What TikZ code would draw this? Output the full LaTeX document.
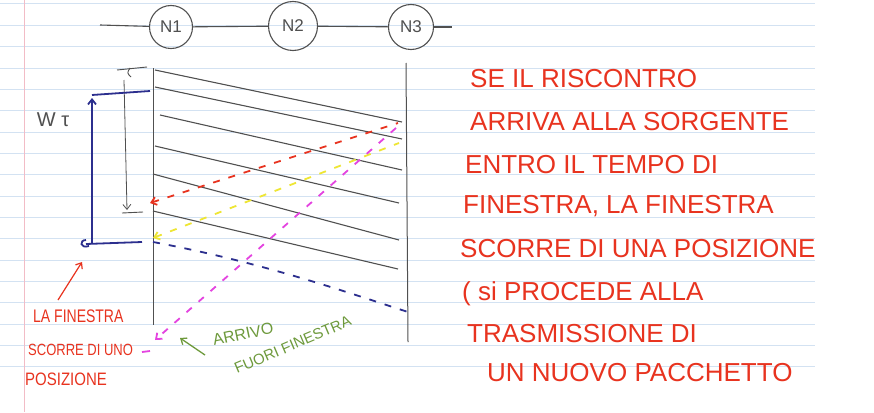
\documentclass[tikz,border=0pt]{standalone}
\usepackage{fontspec}
\setmainfont{Liberation Sans}
\usetikzlibrary{arrows.meta}
\definecolor{paperline}{HTML}{D3E2F2}
\definecolor{marginc}{HTML}{F2BCC6}
\definecolor{grayink}{HTML}{505050}
\definecolor{blueink}{HTML}{2C2F8E}
\definecolor{redink}{HTML}{E8331F}
\definecolor{yellowink}{HTML}{EEE634}
\definecolor{magink}{HTML}{E444E0}
\definecolor{greenink}{HTML}{6E9A3C}
\tikzset{
  ruled/.style={paperline, line width=1pt},
  nodecirc/.style={circle, draw=grayink, line width=1.1pt, inner sep=0pt, text=grayink, font=\fontsize{17}{17}\selectfont},
  link/.style={grayink, line width=1.1pt},
  timeline/.style={grayink, line width=1pt},
  pkt/.style={grayink, line width=1.1pt},
  blueline/.style={blueink, line width=1.8pt},
  ackdash/.style={line width=1.8pt, dash pattern=on 7pt off 9pt},
  tip/.style={-{Straight Barb[length=5pt,width=8pt]}},
  bigtext/.style={anchor=base west, text=redink, inner sep=0pt, font=\fontsize{26}{26}\selectfont},
  smalltext/.style={anchor=base west, inner sep=0pt, font=\fontsize{14}{14}\selectfont}
}
\begin{document}
\begin{tikzpicture}[x=1pt,y=-1pt]
\useasboundingbox (0,0) rectangle (874,412);
\fill[white] (0,0) rectangle (874,412);
% ruled paper
\foreach \i in {0,...,17} {\draw[ruled] (0,{4+21.35*\i}) -- (815,{4+21.35*\i});}
\draw[marginc, line width=1pt] (24,0) -- (24,412);
% network
\coordinate (l0) at (100,25);
\coordinate (l4) at (452,27);
\node[nodecirc, minimum width=43pt, minimum height=41pt] (n1) at (171,27) {N1};
\node[nodecirc, minimum size=49pt] (n2) at (293,26) {N2};
\node[nodecirc, minimum size=45pt] (n3) at (411,27) {N3};
\draw[link] (l0) -- (n1);
\draw[link] (n1) -- (n2);
\draw[link] (n2) -- (n3);
\draw[link] (n3) -- (l4);
% time lines
\draw[timeline] (153,68) -- (153,325);
\draw[timeline] (406,63) -- (408,342);
% packets
\draw[pkt] (155,70) -- (402,122);
\draw[pkt] (155,87) -- (402,139);
\draw[pkt] (160,115) -- (402,170);
\draw[pkt] (155,146) -- (399,203);
\draw[pkt] (153,174) -- (399,240);
\draw[pkt] (153,211) -- (398,269);
% tau marker
\draw[grayink, line width=0.9pt] (117,70) -- (147,67);
\draw[grayink, line width=0.9pt] (130,68) .. controls (127,73) .. (131,77);
\draw[grayink, line width=0.8pt, tip] (124,80) -- (127,210);
\draw[grayink, line width=0.9pt] (122,213) -- (143,212);
\node[text=grayink, font=\fontsize{20}{20}\selectfont, inner sep=0pt] (wt) at (53,120) {W τ};
% blue window
\draw[blueline] (92,95) -- (150,91);
\draw[blueline, tip] (92,244) -- (92,98);
\draw[blueline] (86,244) -- (142,242);
\draw[blueline] (86,240) .. controls (79,240) and (80,249) .. (89,246);
% acks
\draw[redink, ackdash, {Straight Barb[length=5pt,width=8pt]}-] (150,203) -- (398,123);
\draw[yellowink, ackdash, {Straight Barb[length=5pt,width=8pt]}-] (153,238) -- (399,143);
\draw[magink, ackdash, tip] (396,128) -- (155,340);
\draw[magink, line width=1.8pt] (142,352) -- (150,351);
\draw[blueink, ackdash] (153,242) .. controls (260,262) and (340,290) .. (408,312);
% left annotations
\draw[redink, line width=1.2pt, tip] (58,300) -- (82,262);
\node[smalltext, text=redink] (t1) at (33,322) {\scalebox{1}[1.3]{LA FINESTRA}};
\node[smalltext, text=redink, font=\fontsize{13}{13}\selectfont] (t2) at (28,355) {\scalebox{1}[1.25]{SCORRE DI UNO}};
\node[smalltext, text=redink, font=\fontsize{15}{15}\selectfont] (t3) at (25,385) {\scalebox{1}[1.2]{POSIZIONE}};
\draw[greenink, line width=1.3pt, tip] (205,355) -- (180,338);
\node[smalltext, text=greenink, rotate=12, font=\fontsize{16}{16}\selectfont] (g1) at (214,346) {ARRIVO};
\node[smalltext, text=greenink, rotate=23, font=\fontsize{15}{15}\selectfont] (g2) at (237,374) {FUORI FINESTRA};
% right text
\node[bigtext] (r1) at (470,87) {SE IL RISCONTRO};
\node[bigtext] (r2) at (470,130) {ARRIVA ALLA SORGENTE};
\node[bigtext] (r3) at (465,173) {ENTRO IL TEMPO DI};
\node[bigtext] (r4) at (463,213) {FINESTRA, LA FINESTRA};
\node[bigtext] (r5) at (460,257) {SCORRE DI UNA POSIZIONE};
\node[bigtext] (r6) at (462,300) {( si PROCEDE ALLA};
\node[bigtext] (r7) at (467,342) {TRASMISSIONE DI};
\node[bigtext] (r8) at (487,381) {UN NUOVO PACCHETTO};
\end{tikzpicture}
\end{document}
